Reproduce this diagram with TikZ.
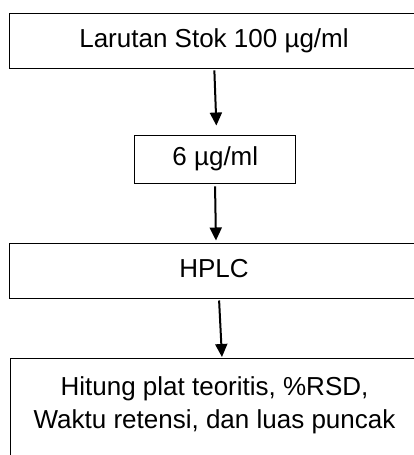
\documentclass[tikz,border=0pt]{standalone}
\usepackage{fontspec}
\setmainfont{Liberation Sans}
\usetikzlibrary{arrows.meta}
\begin{document}
\begin{tikzpicture}[x=1pt,y=-1pt,
  box/.style={draw=black, line width=1pt, inner sep=0pt, font=\fontsize{26}{33}\selectfont,
    text height=19pt, text depth=5.5pt},
  arr/.style={line width=2pt, -{Triangle[length=13pt,width=12pt]}}]
\useasboundingbox (0,0) rectangle (414,455);
\clip (0,0) rectangle (414,455);
\node[box, minimum width=410pt, minimum height=55pt] (stok) at (214,40.8) {Larutan Stok 100 µg/ml};
\node[box, minimum width=160.7pt, minimum height=48.3pt] (enam) at (215.3,159.2) {6 µg/ml};
\node[box, minimum width=410pt, minimum height=55pt] (hplc) at (214,270.5) {HPLC};
\node[box, minimum width=409pt, anchor=north, align=center, inner ysep=18.3pt, text height=52pt, text depth=60pt] (hasil) at (214.5,358)
  {Hitung plat teoritis, \%RSD,\\Waktu retensi, dan luas puncak};
\draw[arr, shorten <=1.5pt, shorten >=9pt] ([xshift=0.3pt]stok.south) -- ([xshift=1.4pt]enam.north);
\draw[arr, shorten <=2.5pt, shorten >=2pt] ([xshift=-0.3pt]enam.south) -- ([xshift=2pt]hplc.north);
\draw[arr, shorten <=2pt, shorten >=1pt] ([xshift=5pt]hplc.south) -- ([xshift=7.5pt]hasil.north);
\end{tikzpicture}
\end{document}
